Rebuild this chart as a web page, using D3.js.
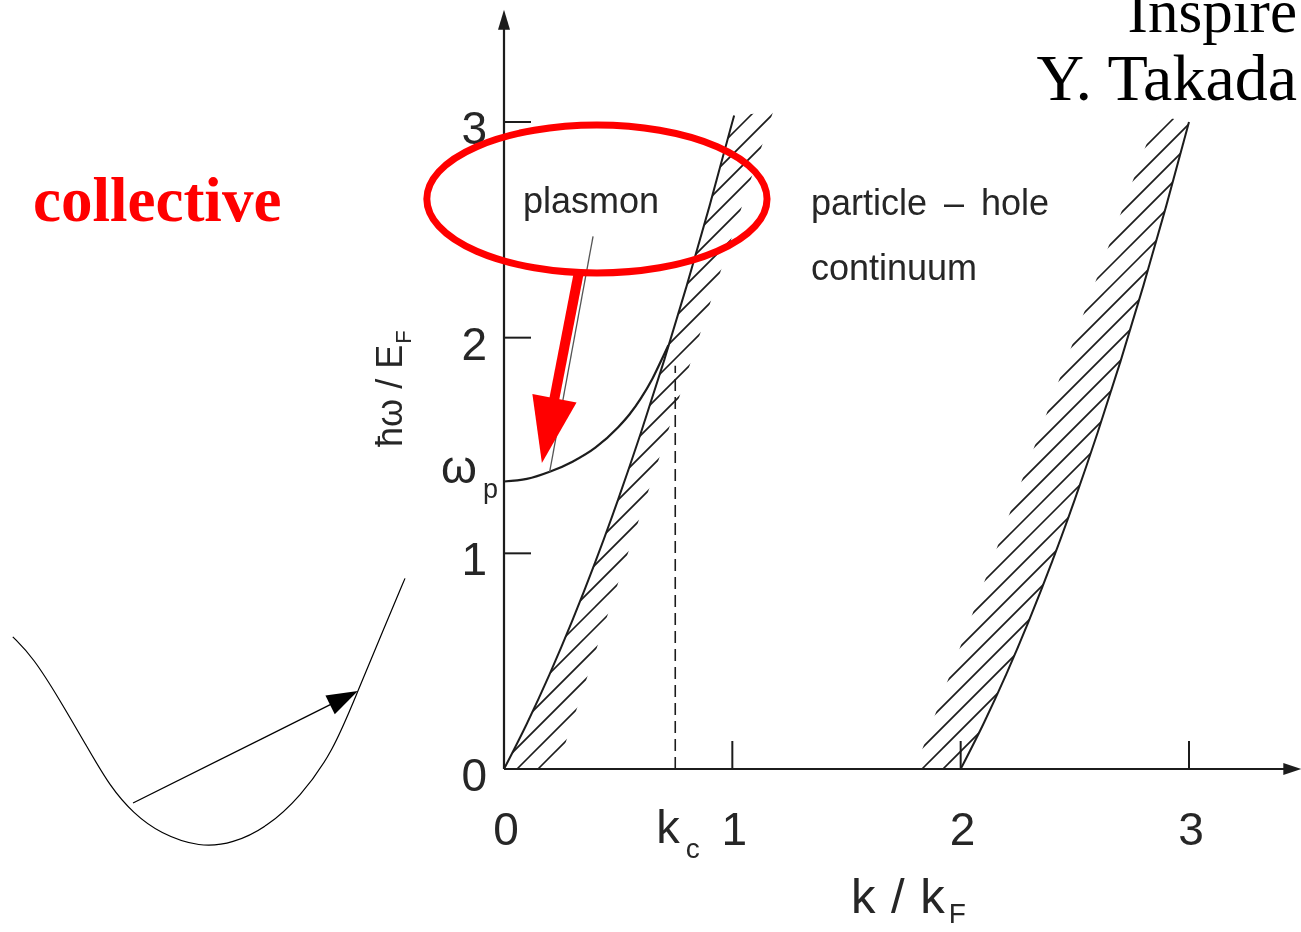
<!DOCTYPE html>
<html>
<head>
<meta charset="utf-8">
<script src="https://cdn.jsdelivr.net/npm/d3@7"></script>
<style>
  html, body { margin: 0; padding: 0; background: #fff; overflow: hidden; }
  svg { display: block; }
</style>
</head>
<body>
<svg id="fig" width="1301" height="932"></svg>
<script>
// ---- axis ticks (k / kF horizontally, ħω / EF vertically) ----
const kTicks = [0, 1, 2, 3];
const kTickLabels = ["0", "1", "2", "3"];
const wTicks = [0, 1, 2, 3];
const wTickLabels = ["0", "1", "2", "3"];

// ---- upper edge of the particle-hole continuum below 2 kF ----
const upperEdgeK = [0, 0.1, 0.2, 0.3, 0.4, 0.5, 0.6, 0.7, 0.8, 0.9, 1.0, 1.008];
const upperEdgeW = [0, 0.21, 0.44, 0.69, 0.96, 1.25, 1.56, 1.89, 2.24, 2.61, 3.0, 3.03];
// outer limit of the hatching drawn against that edge
const upperBandK = [1.178, 0.232];
const upperBandW = [3.046, 0];

// ---- lower edge of the continuum beyond 2 kF ----
const lowerEdgeK = [2.0, 2.1, 2.2, 2.3, 2.4, 2.5, 2.6, 2.7, 2.8, 2.9, 3.0];
const lowerEdgeW = [0, 0.21, 0.44, 0.69, 0.96, 1.25, 1.56, 1.89, 2.24, 2.61, 3.0];
const lowerBandK = [2.86, 1.80];
const lowerBandW = [3.03, 0];

// ---- plasmon branch, from ωp until it enters the continuum ----
const plasmonK = [0, 0.1, 0.2, 0.3, 0.4, 0.5, 0.55, 0.6, 0.65, 0.7, 0.72];
const plasmonW = [1.333, 1.345, 1.378, 1.425, 1.49, 1.585, 1.645, 1.72, 1.81, 1.92, 1.965];

// critical wave number kc and the height of its dashed marker
const kcValue = [0.75];
const kcTop = [1.87];

// ---- sketch of a single-particle band with an excitation arrow ----
const bandK = [0.002, 0.053, 0.122, 0.191, 0.250, 0.309, 0.377, 0.478, 0.562, 0.649, 0.733, 0.817, 0.880, 0.944, 1.0];
const bandE = [0.788, 0.713, 0.552, 0.377, 0.228, 0.129, 0.054, 0.002, 0.017, 0.078, 0.190, 0.359, 0.586, 0.811, 1.006];
const excitationK = [0.308, 0.880];
const excitationE = [0.168, 0.586];

// ---- red annotation: ellipse round the plasmon label, arrow down to the branch ----
const ringCenter = [0.407, 2.643];
const ringRadii = [0.745, 0.343];
const pointerFrom = [0.328, 2.304];
const pointerTo = [0.166, 1.419];
// leader from the "plasmon" label to the branch
const leaderFrom = [0.39, 2.47];
const leaderToK = 0.2;

// ------------------------------------------------------------------
const svg = d3.select("#fig");
const x = d3.scaleLinear().domain([0, 3]).range([504, 1189]);
const y = d3.scaleLinear().domain([0, 3]).range([769, 122]);
const axisEnd = { k: 3.492, w: 3.52 };

const ink = "#1c1c1c";
const textInk = "#262626";
const sans = "'Liberation Sans', Arial, Helvetica, sans-serif";
const serif = "'Liberation Serif', 'Times New Roman', serif";

const defs = svg.append("defs");
defs.append("filter").attr("id", "soft")
  .attr("x", "-5%").attr("y", "-5%").attr("width", "110%").attr("height", "110%")
  .append("feGaussianBlur").attr("stdDeviation", 0.55);

const chart = svg.append("g").attr("filter", "url(#soft)");

const zip = (ks, ws) => ks.map((k, i) => [k, ws[i]]);
const lineKW = d3.line().x(d => x(d[0])).y(d => y(d[1]));

// hatched bands: 45° strokes clipped to the strip between an edge and its outer limit
const hatch = { step: 21, phase: [5, 11] };
function hatchBand(id, edge, outer, phase) {
  const poly = edge.concat(outer).map(d => [x(d[0]), y(d[1])]);
  defs.append("clipPath").attr("id", id)
    .append("polygon").attr("points", poly.map(p => p.join(",")).join(" "));
  const xs = poly.map(p => p[0]);
  const x0 = d3.min(xs) - 5, x1 = d3.max(xs) + 5;
  const cMin = d3.min(poly, p => p[0] + p[1]), cMax = d3.max(poly, p => p[0] + p[1]);
  const cs = [];
  for (let c = Math.floor((cMin - phase) / hatch.step) * hatch.step + phase; c <= cMax; c += hatch.step) cs.push(c);
  chart.append("g").attr("clip-path", `url(#${id})`)
    .selectAll("line").data(cs).join("line")
    .attr("x1", x0).attr("y1", c => c - x0)
    .attr("x2", x1).attr("y2", c => c - x1)
    .attr("stroke", ink).attr("stroke-width", 1.6);
}
hatchBand("band-upper", zip(upperEdgeK, upperEdgeW), zip(upperBandK, upperBandW), hatch.phase[0]);
hatchBand("band-lower", zip(lowerEdgeK, lowerEdgeW), zip(lowerBandK, lowerBandW), hatch.phase[1]);

// continuum edges
chart.append("path").datum(zip(upperEdgeK, upperEdgeW))
  .attr("d", lineKW.curve(d3.curveMonotoneX)).attr("fill", "none")
  .attr("stroke", ink).attr("stroke-width", 2);
chart.append("path").datum(zip(lowerEdgeK, lowerEdgeW))
  .attr("d", lineKW.curve(d3.curveMonotoneX)).attr("fill", "none")
  .attr("stroke", ink).attr("stroke-width", 2);

// plasmon branch
chart.append("path").datum(zip(plasmonK, plasmonW))
  .attr("d", lineKW.curve(d3.curveMonotoneX)).attr("fill", "none")
  .attr("stroke", ink).attr("stroke-width", 2.2);

// dashed marker at kc
chart.append("line")
  .attr("x1", x(kcValue[0])).attr("x2", x(kcValue[0]))
  .attr("y1", y(0)).attr("y2", y(kcTop[0]))
  .attr("stroke", ink).attr("stroke-width", 1.6).attr("stroke-dasharray", "12,6");

// leader line from the label to the branch
const plasmonAt = d3.scaleLinear().domain(plasmonK).range(plasmonW);
chart.append("line")
  .attr("x1", x(leaderFrom[0])).attr("y1", y(leaderFrom[1]))
  .attr("x2", x(leaderToK)).attr("y2", y(plasmonAt(leaderToK)))
  .attr("stroke", "#555").attr("stroke-width", 1.3);

// axes with arrowheads
function arrowHead(x1, y1, x2, y2, len, half) {
  const dx = x2 - x1, dy = y2 - y1, L = Math.hypot(dx, dy);
  const ux = dx / L, uy = dy / L;
  const bx = x2 - ux * len, by = y2 - uy * len;
  return [[x2, y2], [bx - uy * half, by + ux * half], [bx + uy * half, by - ux * half]];
}
chart.append("line")
  .attr("x1", x(0)).attr("y1", y(0)).attr("x2", x(axisEnd.k) - 10).attr("y2", y(0))
  .attr("stroke", ink).attr("stroke-width", 2.2);
chart.append("line")
  .attr("x1", x(0)).attr("y1", y(0)).attr("x2", x(0)).attr("y2", y(axisEnd.w) + 10)
  .attr("stroke", ink).attr("stroke-width", 2.2);
chart.append("polygon")
  .attr("points", arrowHead(x(0), y(0), x(axisEnd.k), y(0), 18, 6).map(p => p.join(",")).join(" "))
  .attr("fill", ink);
chart.append("polygon")
  .attr("points", arrowHead(x(0), y(0), x(0), y(axisEnd.w), 20, 6).map(p => p.join(",")).join(" "))
  .attr("fill", ink);

// tick marks (drawn inside the axes)
chart.selectAll("line.kt").data(kTicks.filter(k => k > 0)).join("line").attr("class", "kt")
  .attr("x1", d => x(d)).attr("x2", d => x(d))
  .attr("y1", y(0)).attr("y2", y(0) - 28)
  .attr("stroke", ink).attr("stroke-width", 2);
chart.selectAll("line.wt").data(wTicks.filter(w => w > 0)).join("line").attr("class", "wt")
  .attr("x1", x(0)).attr("x2", x(0) + 27)
  .attr("y1", d => y(d)).attr("y2", d => y(d))
  .attr("stroke", ink).attr("stroke-width", 2);

// tick labels
chart.selectAll("text.kl").data(kTicks).join("text").attr("class", "kl")
  .attr("x", d => x(d) + 2).attr("y", y(0) + 76)
  .attr("text-anchor", "middle").attr("font-family", sans).attr("font-size", 46)
  .attr("fill", textInk).text((d, i) => kTickLabels[i]);
chart.selectAll("text.wl").data(wTicks).join("text").attr("class", "wl")
  .attr("x", x(0) - 17).attr("y", d => y(d) + 22)
  .attr("text-anchor", "end").attr("font-family", sans).attr("font-size", 46)
  .attr("fill", textInk).text((d, i) => wTickLabels[i]);

// kc and ωp labels
const kcLabel = chart.append("text")
  .attr("x", x(kcValue[0]) - 19).attr("y", y(0) + 74)
  .attr("font-family", sans).attr("font-size", 47).attr("fill", textInk);
kcLabel.append("tspan").text("k");
kcLabel.append("tspan").attr("font-size", 28).attr("dx", 6).attr("dy", 15).text("c");

const wpLabel = chart.append("text")
  .attr("x", x(0) - 63).attr("y", y(plasmonW[0]) + 1)
  .attr("font-family", sans).attr("font-size", 46).attr("fill", textInk);
wpLabel.append("tspan").text("ω");
wpLabel.append("tspan").attr("font-size", 27).attr("dx", 6).attr("dy", 15).text("p");

// axis titles
const xTitle = chart.append("text")
  .attr("x", 851).attr("y", 913)
  .attr("font-family", sans).attr("font-size", 49).attr("fill", textInk)
  .attr("word-spacing", 2);
xTitle.append("tspan").text("k / k");
xTitle.append("tspan").attr("font-size", 28).attr("dx", 4).attr("dy", 10).text("F");

const yTitle = chart.append("text")
  .attr("transform", "translate(402,447) rotate(-90)")
  .attr("font-family", sans).attr("font-size", 36).attr("fill", textInk);
yTitle.append("tspan").text("ħω / E");
yTitle.append("tspan").attr("font-size", 22).attr("dx", 1).attr("dy", 9).text("F");

// region labels
chart.append("text").attr("x", 523).attr("y", 213)
  .attr("font-family", sans).attr("font-size", 36).attr("fill", textInk).text("plasmon");
chart.append("text").attr("x", 811).attr("y", 215)
  .attr("font-family", sans).attr("font-size", 36).attr("fill", textInk)
  .attr("word-spacing", 7).text("particle – hole");
chart.append("text").attr("x", 811).attr("y", 280)
  .attr("font-family", sans).attr("font-size", 36).attr("fill", textInk).text("continuum");

// ---- red annotation ----
const red = "#ff0000";
svg.append("ellipse")
  .attr("cx", x(ringCenter[0])).attr("cy", y(ringCenter[1]))
  .attr("rx", x(ringCenter[0] + ringRadii[0]) - x(ringCenter[0]))
  .attr("ry", y(ringCenter[1]) - y(ringCenter[1] + ringRadii[1]))
  .attr("fill", "none").attr("stroke", red).attr("stroke-width", 7);

{
  const x1 = x(pointerFrom[0]), y1 = y(pointerFrom[1]);
  const x2 = x(pointerTo[0]), y2 = y(pointerTo[1]);
  const head = arrowHead(x1, y1, x2, y2, 66, 22.5);
  const L = Math.hypot(x2 - x1, y2 - y1);
  const sx = x2 - (x2 - x1) / L * 62, sy = y2 - (y2 - y1) / L * 62;
  svg.append("line").attr("x1", x1).attr("y1", y1).attr("x2", sx).attr("y2", sy)
    .attr("stroke", red).attr("stroke-width", 10);
  svg.append("polygon").attr("points", head.map(p => p.join(",")).join(" ")).attr("fill", red);
}

svg.append("text").attr("x", 33).attr("y", 221)
  .attr("font-family", serif).attr("font-weight", "bold").attr("font-size", 63)
  .attr("fill", red).text("collective");

// ---- credit ----
svg.append("text").attr("x", 1297).attr("y", 32).attr("text-anchor", "end")
  .attr("font-family", serif).attr("font-size", 61).attr("fill", "#000").text("Inspire");
svg.append("text").attr("x", 1297).attr("y", 100).attr("text-anchor", "end")
  .attr("font-family", serif).attr("font-size", 66).attr("fill", "#000").text("Y. Takada");

// ---- band sketch with an excitation arrow ----
const bx = d3.scaleLinear().domain([0, 1]).range([12, 405]);
const by = d3.scaleLinear().domain([0, 1]).range([848, 580]);
svg.append("path").datum(zip(bandK, bandE))
  .attr("d", d3.line().x(d => bx(d[0])).y(d => by(d[1])).curve(d3.curveBasis))
  .attr("fill", "none").attr("stroke", "#000").attr("stroke-width", 1.2);
{
  const x1 = bx(excitationK[0]), y1 = by(excitationE[0]);
  const x2 = bx(excitationK[1]), y2 = by(excitationE[1]);
  const L = Math.hypot(x2 - x1, y2 - y1);
  const sx = x2 - (x2 - x1) / L * 28, sy = y2 - (y2 - y1) / L * 28;
  svg.append("line").attr("x1", x1).attr("y1", y1).attr("x2", sx).attr("y2", sy)
    .attr("stroke", "#000").attr("stroke-width", 1.3);
  svg.append("polygon")
    .attr("points", arrowHead(x1, y1, x2, y2, 31, 10.5).map(p => p.join(",")).join(" "))
    .attr("fill", "#000");
}
</script>
</body>
</html>
